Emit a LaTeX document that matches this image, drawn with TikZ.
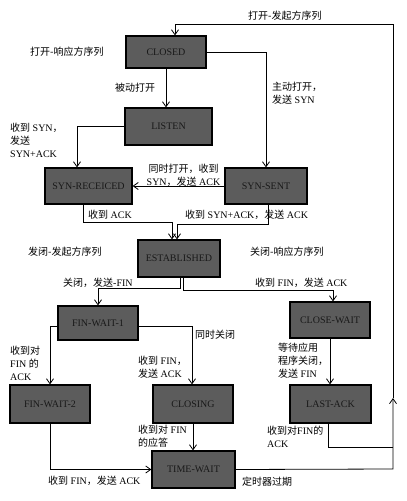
\documentclass[tikz,border=0pt]{standalone}
\usepackage{fontspec}
\setmainfont{Liberation Serif}
\newfontfamily\cjk{Noto Sans CJK SC}
\newcommand\zh[1]{{\cjk #1}}
\usetikzlibrary{arrows.meta,calc}
\definecolor{boxgray}{RGB}{92,92,92}
\definecolor{boxtext}{RGB}{25,25,25}
\begin{document}
\begin{tikzpicture}[x=1pt,y=-1pt,
  state/.style={draw=black,line width=1.2pt,fill=boxgray,text=boxtext,
    font=\fontsize{10}{12}\selectfont,inner sep=0pt},
  lbl/.style={inner sep=0pt,anchor=west,align=left,
    font=\fontsize{10}{13}\selectfont},
  conn/.style={line width=0.8pt,draw=black},
  arr/.style={conn,-{Straight Barb[length=5pt,width=7pt]}}]
\fill[white] (0,0) rectangle (407,501);
\useasboundingbox (0,0) rectangle (407,501);

% states
\node[state,minimum width=80pt,minimum height=32pt] (CL) at (166,52) {CLOSED};
\node[state,minimum width=87pt,minimum height=37pt] (LI) at (168.5,126.5) {LISTEN};
\node[state,minimum width=87pt,minimum height=36pt] (SR) at (88.5,186) {SYN-RECEICED};
\node[state,minimum width=82pt,minimum height=36pt] (SS) at (266,186) {SYN-SENT};
\node[state,minimum width=82pt,minimum height=37pt] (ES) at (179,258.5) {ESTABLISHED};
\node[state,minimum width=80pt,minimum height=34pt] (F1) at (98,323) {FIN-WAIT-1};
\node[state,minimum width=80pt,minimum height=36pt] (CW) at (330,320) {CLOSE-WAIT};
\node[state,minimum width=80pt,minimum height=38pt] (F2) at (50,404) {FIN-WAIT-2};
\node[state,minimum width=80pt,minimum height=38pt] (CG) at (193,404) {CLOSING};
\node[state,minimum width=81pt,minimum height=38pt] (LA) at (330.5,404) {LAST-ACK};
\node[state,minimum width=83pt,minimum height=37pt] (TW) at (193.5,469.5) {TIME-WAIT};

% helper coordinates
\coordinate (j1) at (172,222);
\coordinate (j2) at (177,224);
\coordinate (e1) at (0,288);
\coordinate (e2) at (0,290);
\coordinate (f1) at (0,326);
\coordinate (r1) at (393,469);
\coordinate (rm) at (393,398);
\coordinate (r2) at (393,24);
\coordinate (r3) at (175,24);
\coordinate (r4) at (393,447);

% connectors
\draw[arr] (CL.south) -- (CL.south |- LI.north);
\draw[arr] (CL.east) -| (SS.north);
\draw[arr] (LI.west) -| ([xshift=-11.5pt]SR.north);
\draw[arr] (SS.west) -- (SR.east);
\draw[arr] ([xshift=-5.5pt]SR.south) |- (j1) -- (j1 |- ES.north);
\draw[arr] ([xshift=2pt]SS.south) |- (j2) -- (j2 |- ES.north);
\draw[arr] ([xshift=1pt]ES.south) |- (e1 -| F1.north) -- (F1.north);
\draw[arr] ([xshift=4.5pt]ES.south) |- (e2 -| 333,0) -- (CW.north -| 333,0);
\draw[arr] (F1.west |- f1) -| ([xshift=0pt]F2.north);
\draw[arr] (F1.east |- f1) -| ([xshift=-1pt]CG.north);
\draw[arr] (CW.south) -- (CW.south |- LA.north);
\draw[arr] (CG.south) -- (CG.south |- TW.north);
\draw[arr] (F2.south) |- (TW.west);
\draw[arr] (TW.east) -- (r1) -- (rm);
\draw[arr] (rm) -- (r2) -- (r3) -- (r3 |- CL.north);
\draw[conn] ([xshift=-2.5pt]LA.south) |- (r4);

% labels
\node[lbl] (t1) at (248,16) {\zh{打开-发起方序列}};
\node[lbl] (t2) at (30,52) {\zh{打开-响应方序列}};
\node[lbl] (t3) at (115,88) {\zh{被动打开}};
\node[lbl] (t4) at (272,93.5) {\zh{主动打开，}\\\zh{发送} SYN};
\node[lbl] (t5) at (10,140) {\zh{收到} SYN\zh{，}\\\zh{发送}\\SYN+ACK};
\node[lbl,anchor=center,align=center] (t6) at (183.5,175) {\zh{同时打开，收到}\\SYN\zh{，发送} ACK};
\node[lbl] (t7) at (88,215) {\zh{收到} ACK};
\node[lbl] (t8) at (185,215) {\zh{收到} SYN+ACK\zh{，发送} ACK};
\node[lbl] (t9) at (28,252) {\zh{发闭-发起方序列}};
\node[lbl] (t10) at (250,252) {\zh{关闭-响应方序列}};
\node[lbl] (t11) at (63,283) {\zh{关闭，发送}-FIN};
\node[lbl] (t12) at (255,283) {\zh{收到} FIN\zh{，发送} ACK};
\node[lbl] (t13) at (195,335) {\zh{同时关闭}};
\node[lbl] (t14) at (10,363) {\zh{收到对}\\FIN \zh{的}\\ACK};
\node[lbl] (t15) at (138,367.5) {\zh{收到} FIN\zh{，}\\\zh{发送} ACK};
\node[lbl] (t16) at (278,361) {\zh{等待应用}\\\zh{程序关闭，}\\\zh{发送} FIN};
\node[lbl] (t17) at (138,436.5) {\zh{收到对} FIN\\\zh{的应答}};
\node[lbl] (t18) at (267,436.5) {\zh{收到对}FIN\zh{的}\\ACK};
\node[lbl] (t19) at (48,481) {\zh{收到} FIN\zh{，发送} ACK};
\node[lbl] (t20) at (242,482) {\zh{定时器过期}};
\end{tikzpicture}
\end{document}
